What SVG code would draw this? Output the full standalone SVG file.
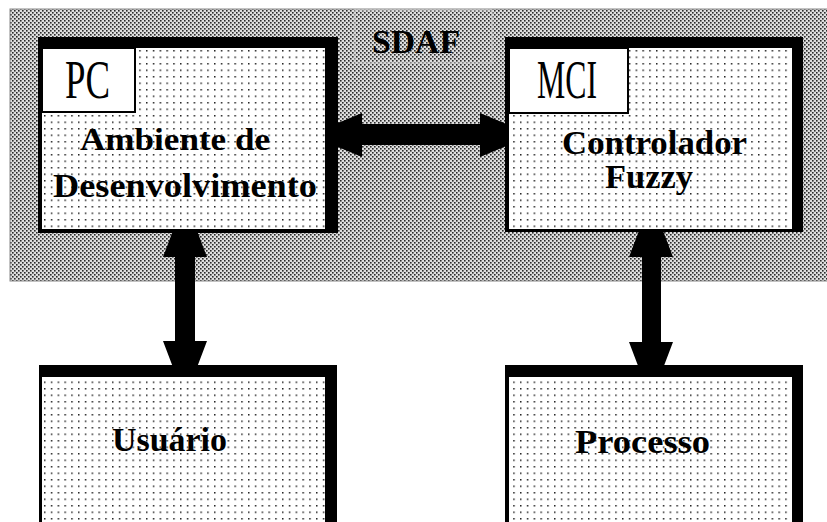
<svg xmlns="http://www.w3.org/2000/svg" width="827" height="522" viewBox="0 0 827 522">
  <defs>
    <pattern id="gray" patternUnits="userSpaceOnUse" width="4" height="4">
      <rect width="4" height="4" fill="#dedede"/>
      <rect x="0" y="0" width="1.6" height="1.6" fill="#2a2a2a"/>
      <rect x="2" y="2" width="1.6" height="1.6" fill="#2a2a2a"/>
    </pattern>
    <pattern id="dots" patternUnits="userSpaceOnUse" width="6.8" height="6.5" x="44" y="50">
      <rect width="6.8" height="6.5" fill="#ffffff"/>
      <rect x="0" y="0" width="1.5" height="1.5" fill="#222"/>
    </pattern>
  </defs>
  <style>
    .outer { fill: #000; }
    .inner { fill: url(#dots); }
    .tag { fill: #fff; stroke: #000; stroke-width: 2; }
    .lbl { font-family: "Liberation Serif", "Times New Roman", serif; font-weight: bold; fill: #000; }
    .cond { font-family: "Liberation Serif", "Times New Roman", serif; font-weight: normal; fill: #000; }
    .arrow { fill: #000; }
  </style>

  <g id="sdaf">
    <rect x="10" y="9" width="818" height="272" fill="url(#gray)" stroke="#888" stroke-width="1"/>
    <rect x="355" y="10" width="137" height="53" fill="none" stroke="#cfcfcf" stroke-width="1"/>
    <text class="lbl" x="372" y="53" font-size="34" textLength="88" lengthAdjust="spacingAndGlyphs">SDAF</text>
  </g>

  <g id="connectors">
    <polygon class="arrow" points="309,135 362,113 362,124 480,124 480,113 533,135 480,157 480,145 362,145 362,157"/>
    <polygon class="arrow" points="185,199 207,257 195,257 195,341 207,341 185,399 163,341 175,341 175,257 163,257"/>
    <polygon class="arrow" points="651,199 673,257 661,257 661,342 673,342 651,400 629,342 642,342 642,257 629,257"/>
  </g>

  <g id="pc">
    <rect class="outer" x="38" y="37" width="300" height="196"/>
    <rect class="inner" x="42" y="48" width="283" height="181"/>
    <rect class="tag" x="42" y="48" width="93" height="64"/>
    <text class="cond" x="65" y="98" font-size="54" textLength="45" lengthAdjust="spacingAndGlyphs">PC</text>
    <text class="lbl" x="80" y="150" font-size="32" textLength="190" lengthAdjust="spacingAndGlyphs">Ambiente de</text>
    <text class="lbl" x="53" y="197" font-size="33" textLength="264" lengthAdjust="spacingAndGlyphs">Desenvolvimento</text>
  </g>

  <g id="mci">
    <rect class="outer" x="505" y="37" width="298" height="195"/>
    <rect class="inner" x="509" y="48" width="283" height="181"/>
    <rect class="tag" x="509" y="48" width="119" height="65"/>
    <text class="cond" x="537" y="98" font-size="54" textLength="60" lengthAdjust="spacingAndGlyphs">MCI</text>
    <text class="lbl" x="562" y="154" font-size="33" textLength="185" lengthAdjust="spacingAndGlyphs">Controlador</text>
    <text class="lbl" x="605" y="188" font-size="33" textLength="88" lengthAdjust="spacingAndGlyphs">Fuzzy</text>
  </g>

  <g id="usuario">
    <rect class="outer" x="39" y="365" width="298" height="170"/>
    <rect class="inner" x="42" y="377" width="283" height="160"/>
    <text class="lbl" x="112" y="451" font-size="34" textLength="115" lengthAdjust="spacingAndGlyphs">Usuário</text>
  </g>

  <g id="processo">
    <rect class="outer" x="505" y="365" width="298" height="170"/>
    <rect class="inner" x="509" y="377" width="283" height="160"/>
    <text class="lbl" x="575" y="453" font-size="33" textLength="135" lengthAdjust="spacingAndGlyphs">Processo</text>
  </g>
</svg>
